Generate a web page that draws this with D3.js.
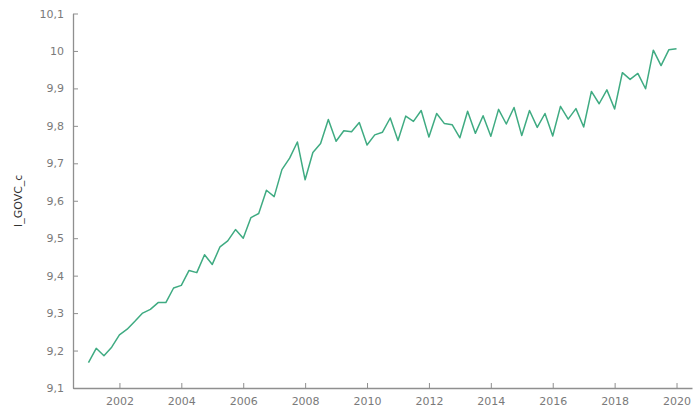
<!DOCTYPE html>
<html>
<head>
<meta charset="utf-8">
<script src="https://cdn.jsdelivr.net/npm/d3@7"></script>
<style>
  html, body { margin: 0; padding: 0; background: #fff; }
  svg { display: block; }
</style>
</head>
<body>
<svg id="chart" width="698" height="414"></svg>
<script>
// Quarterly series l_GOVC_c, 2001Q1 – 2020Q1
const startYear = 2001;
const values = [
  9.168, 9.206, 9.186, 9.209, 9.242, 9.257, 9.278, 9.300,
  9.310, 9.328, 9.328, 9.367, 9.374, 9.414, 9.408, 9.456,
  9.430, 9.477, 9.493, 9.523, 9.500, 9.555, 9.566, 9.628,
  9.611, 9.683, 9.714, 9.757, 9.656, 9.729, 9.753, 9.817,
  9.759, 9.787, 9.784, 9.809, 9.749, 9.776, 9.783, 9.821,
  9.761, 9.826, 9.812, 9.841, 9.770, 9.833, 9.806, 9.803,
  9.768, 9.839, 9.780, 9.827, 9.772, 9.844, 9.805, 9.849,
  9.774, 9.841, 9.796, 9.833, 9.773, 9.852, 9.818, 9.846,
  9.797, 9.892, 9.859, 9.896, 9.845, 9.942, 9.924, 9.940,
  9.899, 10.002, 9.961, 10.003, 10.006
];
const xTicks = [2002, 2004, 2006, 2008, 2010, 2012, 2014, 2016, 2018, 2020];
const yTicks = [9.1, 9.2, 9.3, 9.4, 9.5, 9.6, 9.7, 9.8, 9.9, 10.0, 10.1];
const yLabel = "l_GOVC_c";

const points = values.map((v, i) => ({ t: startYear + i / 4, v }));

const svg = d3.select("#chart");
const margin = { left: 73, right: 6, top: 13.5, bottom: 26 };
const W = 698, H = 414;

const x = d3.scaleLinear().domain([2000.5, 2020.5]).range([margin.left, W - margin.right]);
const y = d3.scaleLinear().domain([9.1, 10.1]).range([H - margin.bottom, margin.top]);

const fmt = d => String(+d.toFixed(1)).replace(".", ",");
const axisColor = "#8f8f8f";
const textColor = "#7a7a7a";
const fontFamily = "'DejaVu Sans', Verdana, sans-serif";

// x axis
const gx = svg.append("g")
  .attr("transform", `translate(0,${y(9.1)})`)
  .call(d3.axisBottom(x).tickValues(xTicks).tickFormat(d3.format("d")).tickSizeInner(-5).tickSizeOuter(0).tickPadding(9));

// y axis
const gy = svg.append("g")
  .attr("transform", `translate(${x(2000.5)},0)`)
  .call(d3.axisLeft(y).tickValues(yTicks).tickFormat(fmt).tickSizeInner(-5).tickSizeOuter(0).tickPadding(9));

[gx, gy].forEach(g => {
  g.select(".domain").attr("stroke", axisColor).attr("stroke-width", 1.3);
  g.selectAll(".tick line").attr("stroke", axisColor).attr("stroke-width", 1);
  g.selectAll(".tick text").attr("fill", textColor)
    .style("font-family", fontFamily).style("font-size", "11px");
});

// axis title
svg.append("text")
  .attr("transform", `translate(22,${(y(9.1) + y(10.1)) / 2}) rotate(-90)`)
  .attr("text-anchor", "middle")
  .style("font-family", fontFamily)
  .style("font-size", "11px")
  .attr("fill", "#333")
  .text(yLabel);

// series line
svg.append("path")
  .datum(points)
  .attr("fill", "none")
  .attr("stroke", "#3fab82")
  .attr("stroke-width", 1.5)
  .attr("stroke-linejoin", "round")
  .attr("d", d3.line().x(d => x(d.t)).y(d => y(d.v)));
</script>
</body>
</html>
